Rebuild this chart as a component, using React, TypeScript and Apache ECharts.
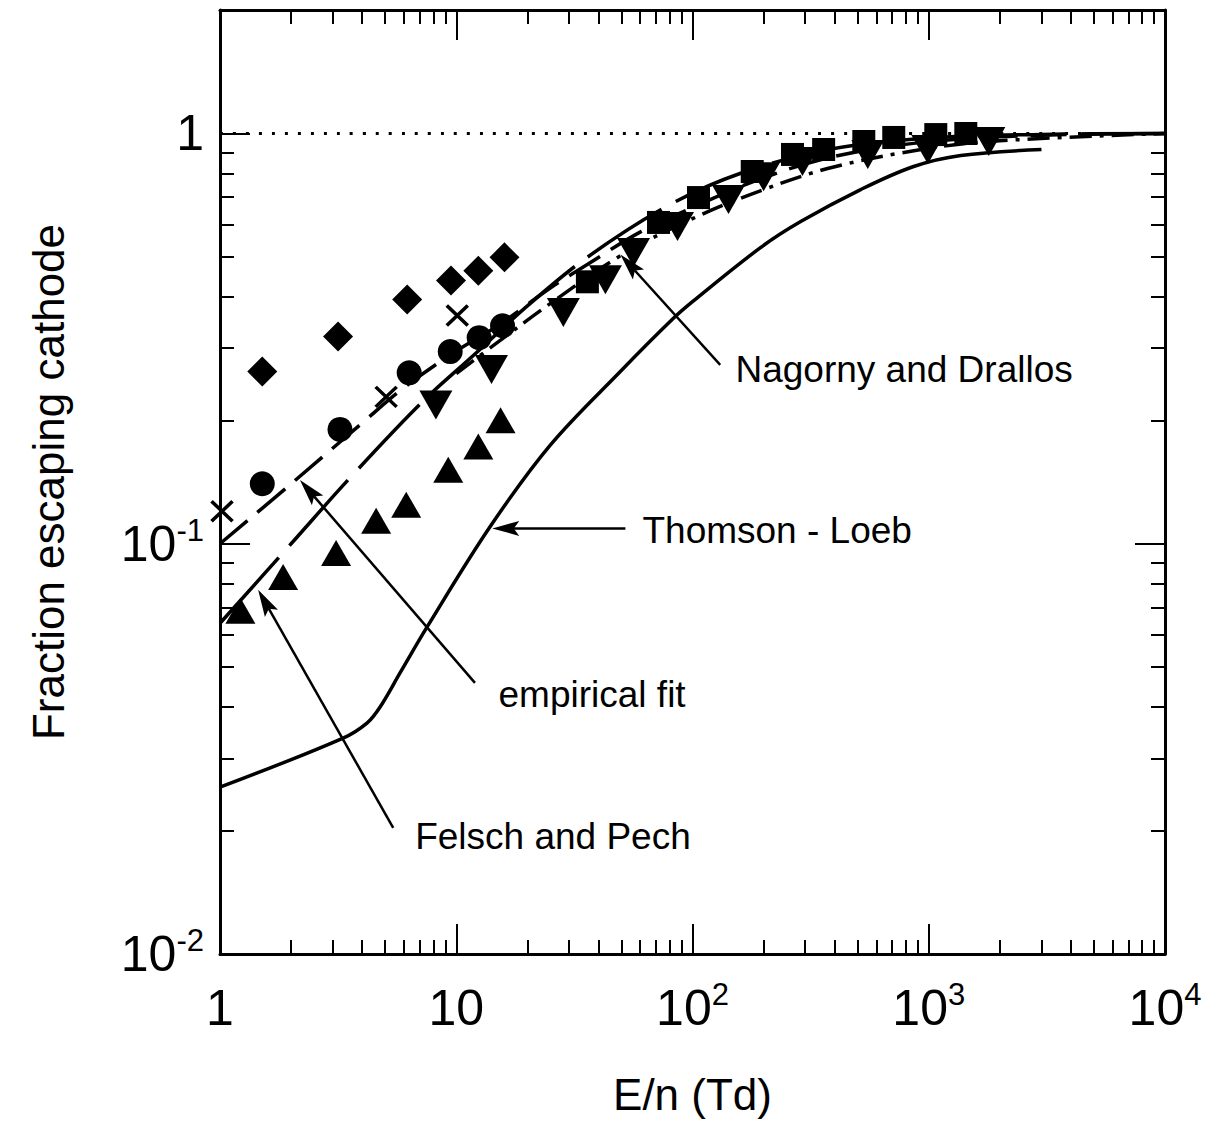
import React, { useEffect, useRef } from 'react';
import * as echarts from 'echarts';

const FONT = '"Liberation Sans", Arial, Helvetica, sans-serif';

// ---- axis ticks ----
const xMajorTicks = [1, 10, 100, 1000, 10000];
const xTickBase = ['1', '10', '10', '10', '10'];
const xTickSup = ['', '', '2', '3', '4'];
const xMinorTicks = [2, 3, 4, 5, 6, 7, 8, 9, 20, 30, 40, 50, 60, 70, 80, 90, 200, 300, 400, 500, 600, 700, 800, 900, 2000, 3000, 4000, 5000, 6000, 7000, 8000, 9000];
const yMajorTicks = [0.01, 0.1, 1];
const yTickBase = ['10', '10', '1'];
const yTickSup = ['-2', '-1', ''];
const yMinorTicks = [0.02, 0.03, 0.04, 0.05, 0.06, 0.07, 0.08, 0.09, 0.2, 0.3, 0.4, 0.5, 0.6, 0.7, 0.8, 0.9, 2];

// ---- curves ----
const unityLine = [[1, 1], [10000, 1]];
const thomsonLoeb = [
  [1, 0.0255], [3.32, 0.0336], [4.2, 0.0366], [4.76, 0.04], [5.79, 0.0485], [7.54, 0.0628],
  [13.9, 0.11], [25, 0.174], [49.5, 0.263], [82, 0.352], [100, 0.389], [194, 0.527],
  [287, 0.61], [515, 0.73], [863, 0.831], [1366, 0.884], [3000, 0.914],
];
const empiricalFit = [
  [1, 0.1], [2, 0.14], [4, 0.197], [6, 0.24], [10, 0.295], [15, 0.34], [25, 0.42], [36, 0.48],
  [60, 0.575], [100, 0.66], [200, 0.78], [400, 0.88], [1000, 0.955], [3000, 0.99], [10000, 1],
];
const felschPech = [
  [1, 0.064], [2, 0.1], [3.56, 0.145], [7.2, 0.222], [12, 0.29], [20, 0.38], [36, 0.5],
  [80, 0.67], [160, 0.8], [380, 0.915], [1000, 0.975], [3000, 0.995], [10000, 1],
];
const nagornyDrallos = [
  [10, 0.26], [15, 0.31], [25, 0.385], [50, 0.505], [100, 0.62], [200, 0.73], [400, 0.83],
  [1000, 0.92], [2000, 0.96], [10000, 1],
];

// ---- measured points ----
const diamonds = [[1.51, 0.263], [3.16, 0.32], [6.2, 0.394], [9.5, 0.438], [12.4, 0.463], [16, 0.499]];
const circles = [[1.51, 0.14], [3.22, 0.19], [6.32, 0.261], [9.43, 0.294], [12.5, 0.318], [15.7, 0.34]];
const crosses = [[1.02, 0.12], [5.05, 0.228], [10.1, 0.36]];
const upTriangles = [
  [1.22, 0.0687], [1.85, 0.083], [3.1, 0.095], [4.58, 0.1138], [6.14, 0.1245], [9.25, 0.1515],
  [12.4, 0.1725], [15.4, 0.2],
];
const downTriangles = [
  [8.2, 0.218], [14.1, 0.266], [28.4, 0.366], [42.8, 0.44], [56.3, 0.513], [86.4, 0.593],
  [142, 0.69], [200, 0.785], [292, 0.855], [552, 0.889], [991, 0.914], [1796, 0.956],
];
const squares = [
  [35.9, 0.435], [71.8, 0.607], [106, 0.698], [179, 0.808], [265, 0.889], [359, 0.914],
  [531, 0.956], [711, 0.978], [1071, 0.994], [1435, 1.0],
];

// ---- annotations ----
const annoTexts = ['Nagorny and Drallos', 'Thomson - Loeb', 'empirical fit', 'Felsch and Pech'];
const annoTextAt = [[152, 0.266], [61.4, 0.108], [15.1, 0.043], [6.7, 0.0193]];
const arrowFrom = [[131, 0.273], [52, 0.109], [12.0, 0.0458], [5.41, 0.0203]];
const arrowTo = [[49.5, 0.507], [14.2, 0.109], [2.18, 0.143], [1.45, 0.0772]];

const rich = {
  a: { fontSize: 50, fontFamily: FONT, color: '#000', lineHeight: 58 },
  s: { fontSize: 31, fontFamily: FONT, color: '#000', lineHeight: 34, verticalAlign: 'top' },
};

function fmt(bases: string[], sups: string[], ticks: number[]) {
  return (v: number) => {
    let idx = 0;
    let best = Infinity;
    ticks.forEach((t, i) => {
      const d = Math.abs(Math.log10(t) - Math.log10(v));
      if (d < best) { best = d; idx = i; }
    });
    return sups[idx] ? `{a|${bases[idx]}}{s|${sups[idx]}}` : `{a|${bases[idx]}}`;
  };
}

function xAxisDef(position: string, major: boolean, main: boolean) {
  return {
    type: 'log',
    logBase: 10,
    min: 1,
    max: 10000,
    position,
    axisLine: { show: major, onZero: false, lineStyle: { color: '#000', width: 3 } },
    axisTick: {
      show: true, inside: true, length: major ? 30 : 14,
      customValues: major ? xMajorTicks : xMinorTicks,
      lineStyle: { color: '#000', width: 2 },
    },
    axisLabel: main
      ? { show: true, customValues: xMajorTicks, margin: 25, formatter: fmt(xTickBase, xTickSup, xMajorTicks), rich }
      : { show: false },
    splitLine: { show: false },
    minorTick: { show: false },
    name: main ? 'E/n (Td)' : '',
    nameLocation: 'middle',
    nameGap: 118,
    nameTextStyle: { fontSize: 44, fontFamily: FONT, color: '#000' },
  };
}

function yAxisDef(position: string, major: boolean, main: boolean) {
  return {
    type: 'log',
    logBase: 10,
    min: 0.01,
    max: 2,
    position,
    axisLine: { show: major, onZero: false, lineStyle: { color: '#000', width: 3 } },
    axisTick: {
      show: true, inside: true, length: major ? 30 : 14,
      customValues: major ? yMajorTicks : yMinorTicks,
      lineStyle: { color: '#000', width: 2 },
    },
    axisLabel: main
      ? { show: true, customValues: yMajorTicks, margin: 16, formatter: fmt(yTickBase, yTickSup, yMajorTicks), rich }
      : { show: false },
    splitLine: { show: false },
    minorTick: { show: false },
    name: main ? 'Fraction escaping cathode' : '',
    nameLocation: 'middle',
    nameGap: 150,
    nameTextStyle: { fontSize: 44, fontFamily: FONT, color: '#000' },
  };
}

function lineSeries(name: string, data: number[][], type: any, width: number) {
  return {
    name,
    type: 'line',
    data,
    showSymbol: false,
    symbol: 'none',
    smooth: 0.35,
    lineStyle: { color: '#000', width, type, opacity: 1 },
    z: 2,
  };
}

function scatterSeries(name: string, data: number[][], symbol: string, size: any, rotate = 0, extra: any = {}) {
  return {
    name,
    type: 'scatter',
    data,
    symbol,
    symbolSize: size,
    symbolRotate: rotate,
    itemStyle: { color: '#000', opacity: 1, ...extra },
    emphasis: { disabled: true },
    z: 3,
  };
}

export default function App() {
  const ref = useRef<HTMLDivElement>(null);
  useEffect(() => {
    if (!ref.current) return;
    const chart = echarts.init(ref.current, null, { renderer: 'svg' });
    chart.setOption({
      animation: false,
      backgroundColor: '#fff',
      textStyle: { fontFamily: FONT },
      grid: { left: 220, right: 63, top: 10, bottom: 167, containLabel: false, outerBoundsMode: 'none' },
      xAxis: [
        xAxisDef('bottom', true, true),
        xAxisDef('bottom', false, false),
        xAxisDef('top', true, false),
        xAxisDef('top', false, false),
      ],
      yAxis: [
        yAxisDef('left', true, true),
        yAxisDef('left', false, false),
        yAxisDef('right', true, false),
        yAxisDef('right', false, false),
      ],
      series: [
        lineSeries('unity', unityLine, [3, 10], 3),
        lineSeries('Thomson - Loeb', thomsonLoeb, 'solid', 3.5),
        lineSeries('empirical fit', empiricalFit, [36, 13], 3.5),
        lineSeries('Felsch and Pech', felschPech, [88, 16], 3.5),
        lineSeries('Nagorny and Drallos', nagornyDrallos, [22, 8, 4, 8], 3.5),
        scatterSeries('diamonds', diamonds, 'diamond', [30, 30]),
        scatterSeries('circles', circles, 'circle', 25),
        scatterSeries('crosses', crosses, 'path://M0,0L20,20M20,0L0,20', [21, 20], 0, { borderColor: '#000', borderWidth: 3.5 }),
        scatterSeries('up triangles', upTriangles, 'triangle', [30, 26]),
        scatterSeries('down triangles', downTriangles, 'triangle', [33, 29], 180),
        scatterSeries('squares', squares, 'rect', [23, 23]),
      ],
    });

    const px = (p: number[]) => chart.convertToPixel({ seriesIndex: 0 }, p) as number[];
    const graphics: any[] = [];
    annoTexts.forEach((t, i) => {
      const a = px(arrowFrom[i]);
      const b = px(arrowTo[i]);
      const dx = b[0] - a[0];
      const dy = b[1] - a[1];
      const len = Math.sqrt(dx * dx + dy * dy);
      const ux = dx / len;
      const uy = dy / len;
      const L = 27;
      const W = 7.5;
      const back = [b[0] - ux * L, b[1] - uy * L];
      const notch = [b[0] - ux * L * 0.8, b[1] - uy * L * 0.8];
      const left = [back[0] - uy * W, back[1] + ux * W];
      const right = [back[0] + uy * W, back[1] - ux * W];
      graphics.push({
        type: 'line',
        shape: { x1: a[0], y1: a[1], x2: notch[0], y2: notch[1] },
        style: { stroke: '#000', lineWidth: 2.5 },
        z: 10,
      });
      graphics.push({
        type: 'polygon',
        shape: { points: [b, left, notch, right] },
        style: { fill: '#000' },
        z: 10,
      });
      const tp = px(annoTextAt[i]);
      graphics.push({
        type: 'text',
        x: tp[0],
        y: tp[1],
        style: {
          text: t, fontSize: 37, fontFamily: FONT, fill: '#000',
          align: 'left', verticalAlign: 'middle', textAlign: 'left', textVerticalAlign: 'middle',
        },
        z: 10,
      });
    });
    chart.setOption({ graphic: graphics });

    return () => chart.dispose();
  }, []);

  return (
    <div
      ref={ref}
      style={{ position: 'absolute', left: 0, top: 0, width: 1228, height: 1121, background: '#fff' }}
    />
  );
}
